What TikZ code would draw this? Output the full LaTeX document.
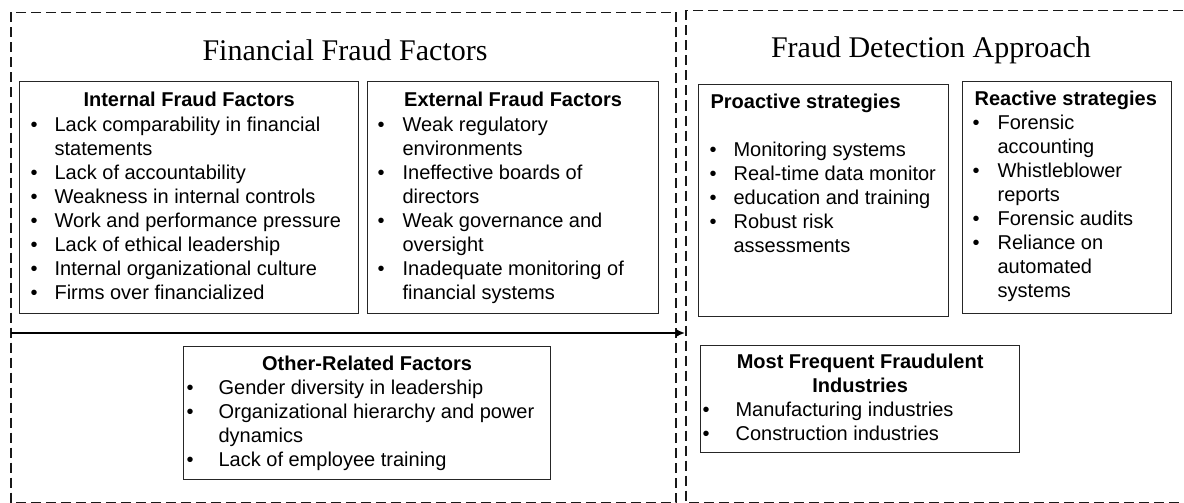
\documentclass[tikz,border=0pt]{standalone}
\usepackage{fontspec}
\setmainfont{Liberation Sans}
\newfontfamily\serifhead{Liberation Serif}
\usetikzlibrary{arrows.meta}

% distance of the bullet from the left side of its box
\newlength{\bulletoff}
\setlength{\bulletoff}{11pt}

% one bulleted entry; continuation lines (\newline) hang under the text
\newcommand{\bitem}[1]{\par\noindent\hangindent=35pt\hangafter=1%
  \hbox to 35pt{\hskip\bulletoff\textbullet\hfil}#1}
% centred bold heading, first baseline #1 below the top of the box
\newcommand{\ctitle}[2]{\par{\centering\rule{0pt}{#1}\bfseries #2\par}}
% left-aligned bold heading
\newcommand{\ltitle}[2]{\par\noindent\hskip 12pt\rule{0pt}{#1}\textbf{#2}}
% box body of fixed width and height, text set from the top
\newcommand{\boxbody}[3]{\begin{minipage}[c][#2][t]{#1}%
  \fontsize{20pt}{24pt}\selectfont\raggedright #3\end{minipage}}

\tikzset{
  factorbox/.style={draw=black!85, line width=1.2pt, inner sep=0pt, anchor=north west},
  frame/.style={draw=black!90, line width=1.2pt, dash pattern=on 10pt off 5pt},
  heading/.style={anchor=base, inner sep=0pt, font=\serifhead\fontsize{30pt}{36pt}\selectfont},
  flow/.style={line width=1.6pt, -{Latex[length=9pt,width=8pt]}}
}

\begin{document}
\begin{tikzpicture}[x=1pt, y=-1pt]
\useasboundingbox (0,0) rectangle (1184,503);

% dashed frames of the two halves
\draw[frame] (11,12.5) rectangle (676,502.5);
\draw[frame] (686,10.5) rectangle (1200,502.5);

% headings
\node[heading] (fffTitle) at (345,61) {Financial Fraud Factors};
\node[heading] (fdaTitle) at (931,58) {Fraud Detection Approach};

% factor boxes
\node[factorbox] (internal) at (19,81) {\boxbody{339pt}{232pt}{%
  \ctitle{25pt}{Internal Fraud Factors}\vspace{1pt}
  \bitem{Lack comparability in financial\newline statements}
  \bitem{Lack of accountability}
  \bitem{Weakness in internal controls}
  \bitem{Work and performance pressure}
  \bitem{Lack of ethical leadership}
  \bitem{Internal organizational culture}
  \bitem{Firms over financialized}\par}};

\node[factorbox] (external) at (367,81) {\boxbody{291pt}{232pt}{%
  \setlength{\bulletoff}{10pt}%
  \ctitle{25pt}{External Fraud Factors}\vspace{1pt}
  \bitem{Weak regulatory\newline environments}
  \bitem{Ineffective boards of\newline directors}
  \bitem{Weak governance and\newline oversight}
  \bitem{Inadequate monitoring of\newline financial systems}\par}};

\node[factorbox] (proactive) at (698,84) {\boxbody{250pt}{232pt}{%
  \setlength{\bulletoff}{11pt}%
  \ltitle{24pt}{Proactive strategies}\par\vspace{24pt}
  \bitem{Monitoring systems}
  \bitem{Real-time data monitor}
  \bitem{education and training}
  \bitem{Robust risk\newline assessments}\par}};

\node[factorbox] (reactive) at (962,81) {\boxbody{209pt}{232pt}{%
  \setlength{\bulletoff}{10pt}%
  \ltitle{24pt}{Reactive strategies}
  \bitem{Forensic\newline accounting}
  \bitem{Whistleblower\newline reports}
  \bitem{Forensic audits}
  \bitem{Reliance on\newline automated\newline systems}\par}};

\node[factorbox] (other) at (183,346) {\boxbody{367pt}{133pt}{%
  \setlength{\bulletoff}{3pt}%
  \ctitle{24pt}{Other-Related Factors}
  \bitem{Gender diversity in leadership}
  \bitem{Organizational hierarchy and power\newline dynamics}
  \bitem{Lack of employee training}\par}};

\node[factorbox] (industries) at (700,345) {\boxbody{319pt}{107pt}{%
  \setlength{\bulletoff}{2pt}%
  \ctitle{23pt}{Most Frequent Fraudulent\\Industries}
  \bitem{Manufacturing industries}
  \bitem{Construction industries}\par}};

% arrow from the factors to the detection approach
\coordinate (flowStart) at (11,333);
\coordinate (flowEnd) at (685,333);
\draw[flow] (flowStart) -- (flowEnd);
\end{tikzpicture}
\end{document}
